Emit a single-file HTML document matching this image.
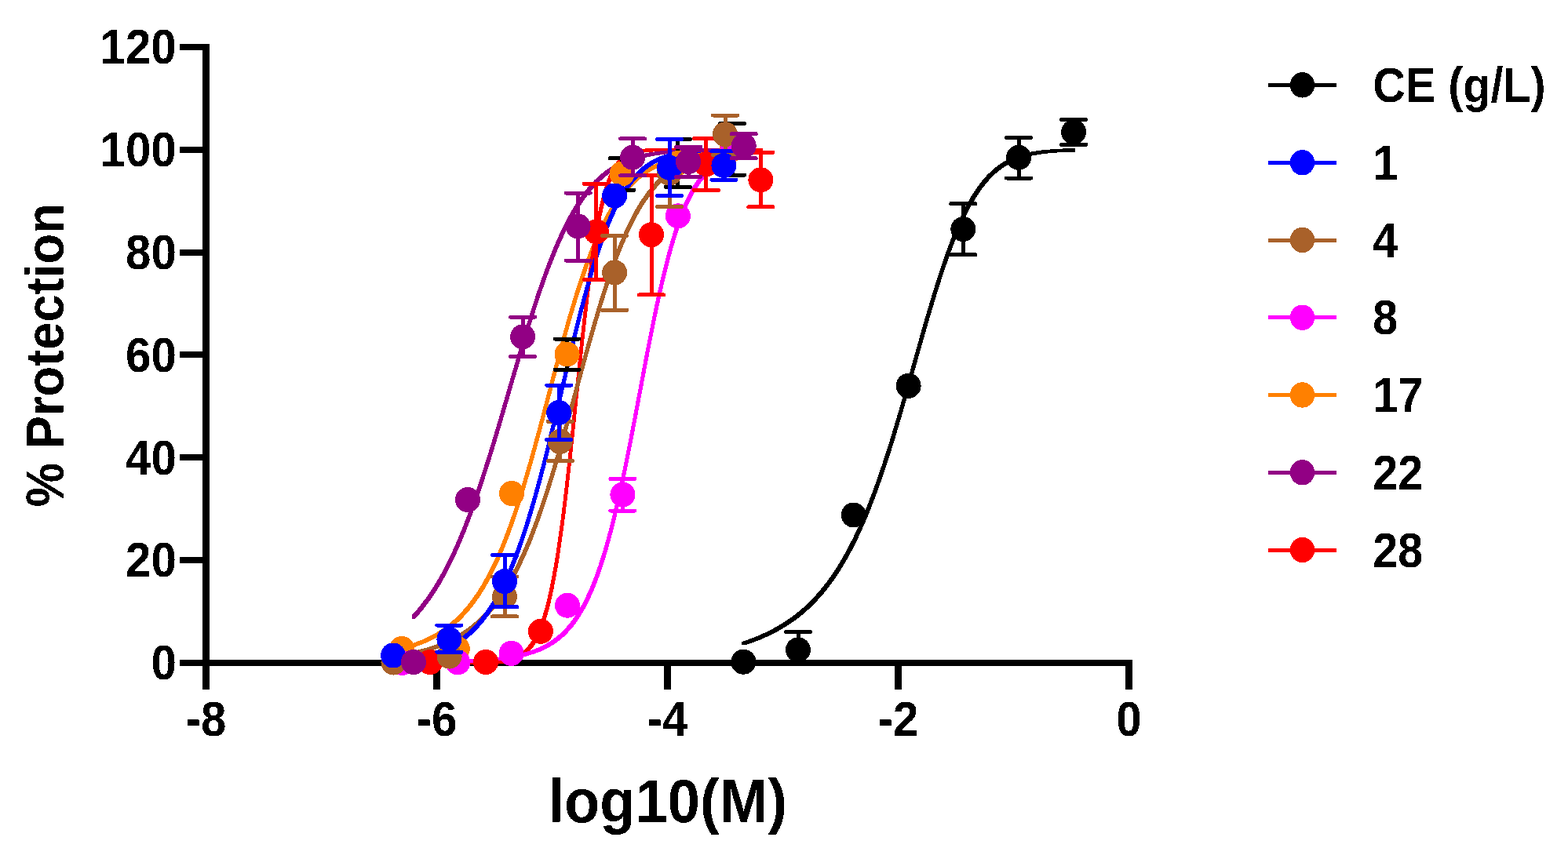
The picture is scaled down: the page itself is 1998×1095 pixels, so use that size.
<!DOCTYPE html>
<html><head><meta charset="utf-8"><title>% Protection vs log10(M)</title>
<style>html,body{margin:0;padding:0;background:#fff}svg{display:block}text{font-family:"Liberation Sans",sans-serif;font-weight:bold;fill:#000}</style></head><body>
<svg width="1998" height="1095" viewBox="0 0 1998 1095">
<defs><filter id="hard" filterUnits="userSpaceOnUse" x="0" y="0" width="1998" height="1095" color-interpolation-filters="sRGB"><feComponentTransfer><feFuncA type="discrete" tableValues="0 1"/></feComponentTransfer></filter></defs>
<rect width="1998" height="1095" fill="#fff"/>
<g fill="#000" shape-rendering="crispEdges">
<rect x="258" y="56" width="9" height="793"/>
<rect x="258" y="841" width="1185" height="8"/>
<rect x="229" y="841" width="30" height="8"/>
<rect x="229" y="710" width="30" height="8"/>
<rect x="229" y="579" width="30" height="8"/>
<rect x="229" y="448" width="30" height="8"/>
<rect x="229" y="318" width="30" height="8"/>
<rect x="229" y="187" width="30" height="8"/>
<rect x="229" y="56" width="30" height="8"/>
<rect x="258" y="841" width="9" height="38"/>
<rect x="552" y="841" width="9" height="38"/>
<rect x="846" y="841" width="9" height="38"/>
<rect x="1140" y="841" width="9" height="38"/>
<rect x="1434" y="841" width="9" height="38"/>
</g>
<g filter="url(#hard)">
<text transform="matrix(0.5830 0 0 0.6300 192.38 866.20)" font-size="100">0</text>
<text transform="matrix(0.5830 0 0 0.6300 160.02 735.37)" font-size="100">20</text>
<text transform="matrix(0.5830 0 0 0.6300 160.02 604.53)" font-size="100">40</text>
<text transform="matrix(0.5830 0 0 0.6300 160.02 473.70)" font-size="100">60</text>
<text transform="matrix(0.5830 0 0 0.6300 160.02 342.87)" font-size="100">80</text>
<text transform="matrix(0.5830 0 0 0.6300 127.52 212.03)" font-size="100">100</text>
<text transform="matrix(0.5830 0 0 0.6300 127.52 81.20)" font-size="100">120</text>
<text transform="matrix(0.5830 0 0 0.6300 236.58 937.60)" font-size="100">-8</text>
<text transform="matrix(0.5830 0 0 0.6300 530.58 937.60)" font-size="100">-6</text>
<text transform="matrix(0.5830 0 0 0.6300 824.58 937.60)" font-size="100">-4</text>
<text transform="matrix(0.5830 0 0 0.6300 1118.58 937.60)" font-size="100">-2</text>
<text transform="matrix(0.5830 0 0 0.6300 1422.29 937.60)" font-size="100">0</text>
<text transform="matrix(0.7410 0 0 0.7700 698.51 1048.10)" font-size="100">log10(M)</text>
<text transform="matrix(0 -0.6335 0.6800 0 80.9 646.38)" font-size="100">% Protection</text>
</g>
<g shape-rendering="crispEdges">
<g stroke="none">
<path d="M945.2,818.0 948.2,817.0 951.3,816.0 954.3,814.9 957.3,813.8 960.3,812.6 963.4,811.4 966.4,810.2 969.4,808.9 972.4,807.5 975.5,806.1 978.5,804.7 981.5,803.1 984.5,801.6 987.6,799.9 990.6,798.2 993.6,796.4 996.7,794.6 999.7,792.7 1002.7,790.7 1005.7,788.6 1008.8,786.4 1011.8,784.2 1014.8,781.8 1017.8,779.4 1020.9,776.8 1023.9,774.2 1026.9,771.4 1029.9,768.5 1033.0,765.5 1036.0,762.4 1039.0,759.1 1042.1,755.7 1045.1,752.2 1048.1,748.5 1051.1,744.7 1054.2,740.7 1057.2,736.5 1060.2,732.2 1063.2,727.7 1066.3,723.0 1069.3,718.1 1072.3,713.1 1075.3,707.8 1078.4,702.3 1081.4,696.6 1084.4,690.7 1087.5,684.6 1090.5,678.2 1093.5,671.7 1096.5,664.8 1099.6,657.8 1102.6,650.5 1105.6,643.0 1108.6,635.2 1111.7,627.2 1114.7,618.9 1117.7,610.4 1120.7,601.7 1123.8,592.7 1126.8,583.6 1129.8,574.2 1132.9,564.6 1135.9,554.8 1138.9,544.8 1141.9,534.7 1145.0,524.4 1148.0,514.0 1151.0,503.5 1154.0,492.9 1157.1,482.2 1160.1,471.5 1163.1,460.7 1166.1,450.0 1169.2,439.2 1172.2,428.6 1175.2,418.0 1178.2,407.5 1181.3,397.1 1184.3,386.9 1187.3,376.9 1190.4,367.0 1193.4,357.4 1196.4,348.0 1199.4,338.9 1202.5,330.1 1205.5,321.5 1208.5,313.2 1211.5,305.3 1214.6,297.7 1217.6,290.4 1220.6,283.4 1223.6,276.7 1226.7,270.4 1229.7,264.4 1232.7,258.7 1235.8,253.4 1238.8,248.3 1241.8,243.6 1244.8,239.1 1247.9,235.0 1250.9,231.1 1253.9,227.5 1256.9,224.1 1260.0,221.0 1263.0,218.1 1266.0,215.4 1269.0,213.0 1272.1,210.7 1275.1,208.6 1278.1,206.7 1281.2,204.9 1284.2,203.3 1287.2,201.9 1290.2,200.5 1293.3,199.3 1296.3,198.2 1299.3,197.2 1302.3,196.3 1305.4,195.5 1308.4,194.7 1311.4,194.0 1314.4,193.4 1317.5,192.9 1320.5,192.4 1323.5,192.0 1326.6,191.6 1329.6,191.2 1332.6,190.9 1335.6,190.7 1338.7,190.4 1341.7,190.2 1344.7,190.0 1347.7,189.8 1350.8,189.7 1353.8,189.5 1356.8,189.4 1359.8,189.3 1362.9,189.2 1365.9,189.2 1370.3,189.2 1370.3,193.6 1367.3,193.6 1364.2,193.7 1361.2,193.8 1358.2,193.9 1355.2,194.1 1352.1,194.2 1349.1,194.4 1346.1,194.6 1343.1,194.8 1340.0,195.1 1337.0,195.3 1334.0,195.6 1331.0,196.0 1327.9,196.4 1324.9,196.8 1321.9,197.3 1318.8,197.8 1315.8,198.4 1312.8,199.1 1309.8,199.9 1306.7,200.7 1303.7,201.6 1300.7,202.6 1297.7,203.7 1294.6,204.9 1291.6,206.3 1288.6,207.7 1285.6,209.3 1282.5,211.1 1279.5,213.0 1276.5,215.1 1273.4,217.4 1270.4,219.8 1267.4,222.5 1264.4,225.4 1261.3,228.5 1258.3,231.9 1255.3,235.5 1252.3,239.4 1249.2,243.5 1246.2,248.0 1243.2,252.7 1240.2,257.8 1237.1,263.1 1234.1,268.8 1231.1,274.8 1228.0,281.1 1225.0,287.8 1222.0,294.8 1219.0,302.1 1215.9,309.7 1212.9,317.6 1209.9,325.9 1206.9,334.5 1203.8,343.3 1200.8,352.4 1197.8,361.8 1194.8,371.4 1191.7,381.3 1188.7,391.3 1185.7,401.5 1182.6,411.9 1179.6,422.4 1176.6,433.0 1173.6,443.6 1170.5,454.4 1167.5,465.1 1164.5,475.9 1161.5,486.6 1158.4,497.3 1155.4,507.9 1152.4,518.4 1149.4,528.8 1146.3,539.1 1143.3,549.2 1140.3,559.2 1137.3,569.0 1134.2,578.6 1131.2,588.0 1128.2,597.1 1125.1,606.1 1122.1,614.8 1119.1,623.3 1116.1,631.6 1113.0,639.6 1110.0,647.4 1107.0,654.9 1104.0,662.2 1100.9,669.2 1097.9,676.1 1094.9,682.6 1091.9,689.0 1088.8,695.1 1085.8,701.0 1082.8,706.7 1079.7,712.2 1076.7,717.5 1073.7,722.5 1070.7,727.4 1067.6,732.1 1064.6,736.6 1061.6,740.9 1058.6,745.1 1055.5,749.1 1052.5,752.9 1049.5,756.6 1046.5,760.1 1043.4,763.5 1040.4,766.8 1037.4,769.9 1034.3,772.9 1031.3,775.8 1028.3,778.6 1025.3,781.2 1022.2,783.8 1019.2,786.2 1016.2,788.6 1013.2,790.8 1010.1,793.0 1007.1,795.1 1004.1,797.1 1001.1,799.0 998.0,800.8 995.0,802.6 992.0,804.3 988.9,806.0 985.9,807.5 982.9,809.1 979.9,810.5 976.8,811.9 973.8,813.3 970.8,814.6 967.8,815.8 964.7,817.0 961.7,818.2 958.7,819.3 955.7,820.4 952.6,821.4 949.6,822.4 945.2,822.4Z" fill="#000000"/>
<path d="M509.8,824.6 512.8,823.8 515.9,822.9 518.9,822.1 521.9,821.2 524.9,820.2 528.0,819.1 531.0,818.1 534.0,816.9 537.1,815.7 540.1,814.4 543.1,813.0 546.1,811.6 549.2,810.0 552.2,808.4 555.2,806.7 558.3,804.9 561.3,802.9 564.3,800.9 567.3,798.7 570.4,796.4 573.4,794.0 576.4,791.5 579.5,788.7 582.5,785.9 585.5,782.8 588.5,779.6 591.6,776.3 594.6,772.7 597.6,768.9 600.7,764.9 603.7,760.7 606.7,756.3 609.7,751.7 612.8,746.8 615.8,741.6 618.8,736.2 621.9,730.5 624.9,724.5 627.9,718.3 631.0,711.8 634.0,704.9 637.0,697.8 640.0,690.3 643.1,682.6 646.1,674.5 649.1,666.2 652.2,657.5 655.2,648.5 658.2,639.3 661.2,629.7 664.3,619.9 667.3,609.9 670.3,599.5 673.4,589.0 676.4,578.2 679.4,567.3 682.4,556.2 685.5,544.9 688.5,533.6 691.5,522.1 694.6,510.6 697.6,499.1 700.6,487.5 703.6,476.0 706.7,464.6 709.7,453.3 712.7,442.0 715.8,431.0 718.8,420.1 721.8,409.4 724.8,398.9 727.9,388.7 730.9,378.7 733.9,369.0 737.0,359.6 740.0,350.5 743.0,341.7 746.0,333.2 749.1,325.1 752.1,317.3 755.1,309.8 758.2,302.7 761.2,295.9 764.2,289.4 767.2,283.2 770.3,277.3 773.3,271.8 776.3,266.5 779.4,261.5 782.4,256.8 785.4,252.4 788.4,248.2 791.5,244.3 794.5,240.6 797.5,237.1 800.6,233.9 803.6,230.8 806.6,228.0 809.6,225.3 812.7,222.8 815.7,220.4 818.7,218.2 821.8,216.2 824.8,214.3 827.8,212.5 830.9,210.9 833.9,209.3 836.9,207.9 839.9,206.5 843.0,205.3 846.0,204.1 849.0,203.0 852.1,202.0 855.1,201.1 858.1,200.2 861.1,199.4 864.2,198.7 867.2,198.0 870.2,197.3 873.3,196.7 876.3,196.1 879.3,195.6 882.3,195.1 885.4,194.7 888.4,194.3 891.4,193.9 894.5,193.5 897.5,193.2 900.5,192.9 903.5,192.6 906.6,192.3 909.6,192.1 912.6,191.8 915.7,191.6 918.7,191.4 921.7,191.2 924.7,191.1 927.8,190.9 930.8,190.7 935.2,190.7 935.2,195.1 932.2,195.3 929.1,195.5 926.1,195.6 923.1,195.8 920.1,196.0 917.0,196.2 914.0,196.5 911.0,196.7 907.9,197.0 904.9,197.3 901.9,197.6 898.9,197.9 895.8,198.3 892.8,198.7 889.8,199.1 886.7,199.5 883.7,200.0 880.7,200.5 877.7,201.1 874.6,201.7 871.6,202.4 868.6,203.1 865.5,203.8 862.5,204.6 859.5,205.5 856.5,206.4 853.4,207.4 850.4,208.5 847.4,209.7 844.3,210.9 841.3,212.3 838.3,213.7 835.3,215.3 832.2,216.9 829.2,218.7 826.2,220.6 823.1,222.6 820.1,224.8 817.1,227.2 814.0,229.7 811.0,232.4 808.0,235.2 805.0,238.3 801.9,241.5 798.9,245.0 795.9,248.7 792.8,252.6 789.8,256.8 786.8,261.2 783.8,265.9 780.7,270.9 777.7,276.2 774.7,281.7 771.6,287.6 768.6,293.8 765.6,300.3 762.6,307.1 759.5,314.2 756.5,321.7 753.5,329.5 750.4,337.6 747.4,346.1 744.4,354.9 741.4,364.0 738.3,373.4 735.3,383.1 732.3,393.1 729.2,403.3 726.2,413.8 723.2,424.5 720.2,435.4 717.1,446.4 714.1,457.7 711.1,469.0 708.0,480.4 705.0,491.9 702.0,503.5 699.0,515.0 695.9,526.5 692.9,538.0 689.9,549.3 686.8,560.6 683.8,571.7 680.8,582.6 677.8,593.4 674.7,603.9 671.7,614.3 668.7,624.3 665.6,634.1 662.6,643.7 659.6,652.9 656.6,661.9 653.5,670.6 650.5,678.9 647.5,687.0 644.4,694.7 641.4,702.2 638.4,709.3 635.4,716.2 632.3,722.7 629.3,728.9 626.3,734.9 623.2,740.6 620.2,746.0 617.2,751.2 614.1,756.1 611.1,760.7 608.1,765.1 605.1,769.3 602.0,773.3 599.0,777.1 596.0,780.7 592.9,784.0 589.9,787.2 586.9,790.3 583.9,793.1 580.8,795.9 577.8,798.4 574.8,800.8 571.7,803.1 568.7,805.3 565.7,807.3 562.7,809.3 559.6,811.1 556.6,812.8 553.6,814.4 550.5,816.0 547.5,817.4 544.5,818.8 541.5,820.1 538.4,821.3 535.4,822.5 532.4,823.5 529.3,824.6 526.3,825.6 523.3,826.5 520.3,827.3 517.2,828.2 514.2,829.0 509.8,829.0Z" fill="#FF8000"/>
<path d="M545.8,842.8 548.8,842.8 551.9,842.8 554.9,842.8 557.9,842.8 561.0,842.8 564.0,842.8 567.0,842.8 570.1,842.8 573.1,842.8 576.1,842.8 579.1,842.8 582.2,842.8 585.2,842.8 588.2,842.8 591.3,842.8 594.3,842.8 597.3,842.7 600.4,842.7 603.4,842.7 606.4,842.7 609.5,842.6 612.5,842.6 615.5,842.5 618.6,842.4 621.6,842.3 624.6,842.2 627.7,842.0 630.7,841.8 633.7,841.5 636.7,841.2 639.8,840.8 642.8,840.2 645.8,839.6 648.9,838.8 651.9,837.9 654.9,836.7 658.0,835.3 661.0,833.6 664.0,831.6 667.1,829.2 670.1,826.3 673.1,822.9 676.2,818.9 679.2,814.1 682.2,808.4 685.3,801.9 688.3,794.2 691.3,785.3 694.4,775.0 697.4,763.2 700.4,749.8 703.4,734.5 706.5,717.4 709.5,698.4 712.5,677.4 715.6,654.4 718.6,629.7 721.6,603.4 724.7,575.6 727.7,546.9 730.7,517.5 733.8,488.0 736.8,458.7 739.8,430.1 742.9,402.6 745.9,376.6 748.9,352.4 752.0,330.1 755.0,309.9 758.0,291.8 761.0,275.7 764.1,261.7 767.1,249.5 770.1,239.0 773.2,230.1 776.2,222.5 779.2,216.2 782.3,210.9 785.3,206.6 788.3,203.0 791.4,200.1 794.4,197.7 797.4,195.8 800.5,194.2 803.5,193.0 806.5,192.0 809.6,191.2 812.6,190.6 815.6,190.1 818.6,189.8 821.7,189.5 824.7,189.3 827.7,189.1 830.8,189.0 833.8,188.9 836.8,188.8 839.9,188.8 842.9,188.7 845.9,188.7 849.0,188.7 852.0,188.7 855.0,188.7 858.1,188.6 861.1,188.6 864.1,188.6 867.2,188.6 870.2,188.6 873.2,188.6 876.3,188.6 879.3,188.6 882.3,188.6 885.3,188.6 888.4,188.6 891.4,188.6 894.4,188.6 897.5,188.6 900.5,188.6 903.5,188.6 906.6,188.6 909.6,188.6 912.6,188.6 915.7,188.6 918.7,188.6 921.7,188.6 924.8,188.6 927.8,188.6 930.8,188.6 933.9,188.6 936.9,188.6 939.9,188.6 942.9,188.6 946.0,188.6 949.0,188.6 952.0,188.6 955.1,188.6 958.1,188.6 961.1,188.6 964.2,188.6 967.2,188.6 971.6,188.6 971.6,193.0 968.6,193.0 965.5,193.0 962.5,193.0 959.5,193.0 956.4,193.0 953.4,193.0 950.4,193.0 947.3,193.0 944.3,193.0 941.3,193.0 938.3,193.0 935.2,193.0 932.2,193.0 929.2,193.0 926.1,193.0 923.1,193.0 920.1,193.0 917.0,193.0 914.0,193.0 911.0,193.0 907.9,193.0 904.9,193.0 901.9,193.0 898.8,193.0 895.8,193.0 892.8,193.0 889.7,193.0 886.7,193.0 883.7,193.0 880.7,193.0 877.6,193.0 874.6,193.0 871.6,193.0 868.5,193.0 865.5,193.0 862.5,193.0 859.4,193.1 856.4,193.1 853.4,193.1 850.3,193.1 847.3,193.1 844.3,193.2 841.2,193.2 838.2,193.3 835.2,193.4 832.1,193.5 829.1,193.7 826.1,193.9 823.0,194.2 820.0,194.5 817.0,195.0 814.0,195.6 810.9,196.4 807.9,197.4 804.9,198.6 801.8,200.2 798.8,202.1 795.8,204.5 792.7,207.4 789.7,211.0 786.7,215.3 783.6,220.6 780.6,226.9 777.6,234.5 774.5,243.4 771.5,253.9 768.5,266.1 765.4,280.1 762.4,296.2 759.4,314.3 756.4,334.5 753.3,356.8 750.3,381.0 747.3,407.0 744.2,434.5 741.2,463.1 738.2,492.4 735.1,521.9 732.1,551.3 729.1,580.0 726.0,607.8 723.0,634.1 720.0,658.8 716.9,681.8 713.9,702.8 710.9,721.8 707.8,738.9 704.8,754.2 701.8,767.6 698.8,779.4 695.7,789.7 692.7,798.6 689.7,806.3 686.6,812.8 683.6,818.5 680.6,823.3 677.5,827.3 674.5,830.7 671.5,833.6 668.4,836.0 665.4,838.0 662.4,839.7 659.3,841.1 656.3,842.3 653.3,843.2 650.2,844.0 647.2,844.6 644.2,845.2 641.1,845.6 638.1,845.9 635.1,846.2 632.1,846.4 629.0,846.6 626.0,846.7 623.0,846.8 619.9,846.9 616.9,847.0 613.9,847.0 610.8,847.1 607.8,847.1 604.8,847.1 601.7,847.1 598.7,847.2 595.7,847.2 592.6,847.2 589.6,847.2 586.6,847.2 583.5,847.2 580.5,847.2 577.5,847.2 574.5,847.2 571.4,847.2 568.4,847.2 565.4,847.2 562.3,847.2 559.3,847.2 556.3,847.2 553.2,847.2 550.2,847.2 545.8,847.2Z" fill="#FF0000"/>
<path d="M510.3,842.4 513.3,842.3 516.4,842.3 519.4,842.3 522.4,842.3 525.5,842.2 528.5,842.2 531.5,842.2 534.6,842.1 537.6,842.1 540.6,842.1 543.7,842.0 546.7,842.0 549.7,841.9 552.8,841.9 555.8,841.8 558.8,841.8 561.9,841.7 564.9,841.6 567.9,841.6 571.0,841.5 574.0,841.4 577.0,841.3 580.1,841.2 583.1,841.1 586.1,841.0 589.2,840.9 592.2,840.8 595.2,840.6 598.3,840.5 601.3,840.4 604.3,840.2 607.4,840.0 610.4,839.8 613.4,839.6 616.5,839.4 619.5,839.2 622.6,838.9 625.6,838.7 628.6,838.4 631.7,838.0 634.7,837.7 637.7,837.3 640.8,836.9 643.8,836.5 646.8,836.1 649.9,835.6 652.9,835.0 655.9,834.4 659.0,833.8 662.0,833.1 665.0,832.4 668.1,831.6 671.1,830.7 674.1,829.8 677.2,828.8 680.2,827.7 683.2,826.5 686.3,825.2 689.3,823.8 692.3,822.3 695.4,820.7 698.4,818.9 701.4,817.0 704.5,814.9 707.5,812.7 710.5,810.3 713.6,807.6 716.6,804.7 719.6,801.6 722.7,798.3 725.7,794.7 728.7,790.8 731.8,786.5 734.8,781.9 737.8,777.0 740.9,771.7 743.9,766.0 746.9,759.8 750.0,753.2 753.0,746.1 756.0,738.5 759.1,730.4 762.1,721.8 765.1,712.6 768.2,702.8 771.2,692.4 774.2,681.5 777.3,669.9 780.3,657.8 783.3,645.1 786.4,631.9 789.4,618.1 792.4,603.8 795.5,589.1 798.5,574.0 801.5,558.6 804.6,542.8 807.6,526.9 810.6,510.8 813.7,494.7 816.7,478.6 819.7,462.6 822.8,446.7 825.8,431.1 828.9,415.9 831.9,401.0 834.9,386.6 838.0,372.7 841.0,359.3 844.0,346.6 847.1,334.4 850.1,322.8 853.1,311.9 856.2,301.7 859.2,292.1 862.2,283.1 865.3,274.7 868.3,267.0 871.3,259.8 874.4,253.2 877.4,247.1 880.4,241.5 883.5,236.4 886.5,231.7 889.5,227.4 892.6,223.5 895.6,220.0 898.6,216.8 901.7,213.9 904.7,211.2 907.7,208.9 910.8,206.7 913.8,204.8 916.8,203.1 919.9,201.5 922.9,200.1 925.9,198.8 929.0,197.7 932.0,196.7 936.4,196.7 936.4,201.1 933.4,202.1 930.3,203.2 927.3,204.5 924.3,205.9 921.2,207.5 918.2,209.2 915.2,211.1 912.1,213.3 909.1,215.6 906.1,218.3 903.0,221.2 900.0,224.4 897.0,227.9 893.9,231.8 890.9,236.1 887.9,240.8 884.8,245.9 881.8,251.5 878.8,257.6 875.7,264.2 872.7,271.4 869.7,279.1 866.6,287.5 863.6,296.5 860.6,306.1 857.5,316.3 854.5,327.2 851.5,338.8 848.4,351.0 845.4,363.7 842.4,377.1 839.3,391.0 836.3,405.4 833.3,420.3 830.2,435.5 827.2,451.1 824.1,467.0 821.1,483.0 818.1,499.1 815.0,515.2 812.0,531.3 809.0,547.2 805.9,563.0 802.9,578.4 799.9,593.5 796.8,608.2 793.8,622.5 790.8,636.3 787.7,649.5 784.7,662.2 781.7,674.3 778.6,685.9 775.6,696.8 772.6,707.2 769.5,717.0 766.5,726.2 763.5,734.8 760.4,742.9 757.4,750.5 754.4,757.6 751.3,764.2 748.3,770.4 745.3,776.1 742.2,781.4 739.2,786.3 736.2,790.9 733.1,795.2 730.1,799.1 727.1,802.7 724.0,806.0 721.0,809.1 718.0,812.0 714.9,814.7 711.9,817.1 708.9,819.3 705.8,821.4 702.8,823.3 699.8,825.1 696.7,826.7 693.7,828.2 690.7,829.6 687.6,830.9 684.6,832.1 681.6,833.2 678.5,834.2 675.5,835.1 672.5,836.0 669.4,836.8 666.4,837.5 663.4,838.2 660.3,838.8 657.3,839.4 654.3,840.0 651.2,840.5 648.2,840.9 645.2,841.3 642.1,841.7 639.1,842.1 636.1,842.4 633.0,842.8 630.0,843.1 627.0,843.3 623.9,843.6 620.9,843.8 617.8,844.0 614.8,844.2 611.8,844.4 608.7,844.6 605.7,844.8 602.7,844.9 599.6,845.0 596.6,845.2 593.6,845.3 590.5,845.4 587.5,845.5 584.5,845.6 581.4,845.7 578.4,845.8 575.4,845.9 572.3,846.0 569.3,846.0 566.3,846.1 563.2,846.2 560.2,846.2 557.2,846.3 554.1,846.3 551.1,846.4 548.1,846.4 545.0,846.5 542.0,846.5 539.0,846.5 535.9,846.6 532.9,846.6 529.9,846.6 526.8,846.7 523.8,846.7 520.8,846.7 517.7,846.7 514.7,846.8 510.3,846.8Z" fill="#FF00FF"/>
<path d="M499.3,834.5 502.3,834.0 505.4,833.6 508.4,833.1 511.5,832.6 514.5,832.1 517.5,831.6 520.6,831.0 523.6,830.4 526.7,829.8 529.7,829.1 532.7,828.4 535.8,827.6 538.8,826.8 541.9,826.0 544.9,825.1 547.9,824.2 551.0,823.2 554.0,822.2 557.1,821.1 560.1,819.9 563.1,818.7 566.2,817.4 569.2,816.0 572.2,814.6 575.3,813.1 578.3,811.5 581.4,809.8 584.4,808.0 587.4,806.1 590.5,804.1 593.5,802.0 596.6,799.8 599.6,797.5 602.6,795.1 605.7,792.5 608.7,789.7 611.8,786.8 614.8,783.8 617.8,780.6 620.9,777.3 623.9,773.7 627.0,770.0 630.0,766.1 633.0,762.0 636.1,757.6 639.1,753.1 642.2,748.3 645.2,743.3 648.2,738.1 651.3,732.6 654.3,726.9 657.4,720.9 660.4,714.7 663.4,708.2 666.5,701.4 669.5,694.3 672.6,687.0 675.6,679.3 678.6,671.4 681.7,663.2 684.7,654.8 687.8,646.0 690.8,637.0 693.8,627.8 696.9,618.3 699.9,608.5 703.0,598.5 706.0,588.3 709.0,577.9 712.1,567.4 715.1,556.6 718.1,545.8 721.2,534.8 724.2,523.7 727.3,512.5 730.3,501.4 733.3,490.1 736.4,478.9 739.4,467.8 742.5,456.7 745.5,445.7 748.5,434.8 751.6,424.0 754.6,413.4 757.7,403.0 760.7,392.8 763.7,382.8 766.8,373.1 769.8,363.6 772.9,354.4 775.9,345.5 778.9,336.9 782.0,328.6 785.0,320.6 788.1,312.9 791.1,305.5 794.1,298.5 797.2,291.7 800.2,285.3 803.3,279.2 806.3,273.4 809.3,267.8 812.4,262.6 815.4,257.6 818.5,253.0 821.5,248.6 824.5,244.4 827.6,240.5 830.6,236.8 833.7,233.4 836.7,230.1 839.7,227.1 842.8,224.3 845.8,221.6 848.9,219.2 851.9,216.9 854.9,214.7 858.0,212.7 861.0,210.9 864.0,209.1 867.1,207.5 870.1,206.0 873.2,204.7 876.2,203.4 879.2,202.2 882.3,201.1 885.3,200.1 888.4,199.1 891.4,198.3 894.4,197.5 897.5,196.8 900.5,196.1 903.6,195.4 906.6,194.9 909.6,194.3 912.7,193.9 915.7,193.4 918.8,193.0 921.8,192.6 926.2,192.6 926.2,197.0 923.2,197.4 920.1,197.8 917.1,198.3 914.0,198.7 911.0,199.3 908.0,199.8 904.9,200.5 901.9,201.2 898.8,201.9 895.8,202.7 892.8,203.5 889.7,204.5 886.7,205.5 883.6,206.6 880.6,207.8 877.6,209.1 874.5,210.4 871.5,211.9 868.4,213.5 865.4,215.3 862.4,217.1 859.3,219.1 856.3,221.3 853.3,223.6 850.2,226.0 847.2,228.7 844.1,231.5 841.1,234.5 838.1,237.8 835.0,241.2 832.0,244.9 828.9,248.8 825.9,253.0 822.9,257.4 819.8,262.0 816.8,267.0 813.7,272.2 810.7,277.8 807.7,283.6 804.6,289.7 801.6,296.1 798.5,302.9 795.5,309.9 792.5,317.3 789.4,325.0 786.4,333.0 783.3,341.3 780.3,349.9 777.3,358.8 774.2,368.0 771.2,377.5 768.1,387.2 765.1,397.2 762.1,407.4 759.0,417.8 756.0,428.4 752.9,439.2 749.9,450.1 746.9,461.1 743.8,472.2 740.8,483.3 737.7,494.5 734.7,505.8 731.7,516.9 728.6,528.1 725.6,539.2 722.5,550.2 719.5,561.0 716.5,571.8 713.4,582.3 710.4,592.7 707.4,602.9 704.3,612.9 701.3,622.7 698.2,632.2 695.2,641.4 692.2,650.4 689.1,659.2 686.1,667.6 683.0,675.8 680.0,683.7 677.0,691.4 673.9,698.7 670.9,705.8 667.8,712.6 664.8,719.1 661.8,725.3 658.7,731.3 655.7,737.0 652.6,742.5 649.6,747.7 646.6,752.7 643.5,757.5 640.5,762.0 637.4,766.4 634.4,770.5 631.4,774.4 628.3,778.1 625.3,781.7 622.2,785.0 619.2,788.2 616.2,791.2 613.1,794.1 610.1,796.9 607.0,799.5 604.0,801.9 601.0,804.2 597.9,806.4 594.9,808.5 591.8,810.5 588.8,812.4 585.8,814.2 582.7,815.9 579.7,817.5 576.6,819.0 573.6,820.4 570.6,821.8 567.5,823.1 564.5,824.3 561.5,825.5 558.4,826.6 555.4,827.6 552.3,828.6 549.3,829.5 546.3,830.4 543.2,831.2 540.2,832.0 537.1,832.8 534.1,833.5 531.1,834.2 528.0,834.8 525.0,835.4 521.9,836.0 518.9,836.5 515.9,837.0 512.8,837.5 509.8,838.0 506.7,838.4 503.7,838.9 499.3,838.9Z" fill="#A9612A"/>
<path d="M498.8,840.3 501.8,840.0 504.9,839.7 507.9,839.4 510.9,839.1 514.0,838.7 517.0,838.3 520.0,837.9 523.1,837.4 526.1,836.9 529.1,836.4 532.1,835.8 535.2,835.1 538.2,834.5 541.2,833.7 544.3,832.9 547.3,832.1 550.3,831.1 553.4,830.1 556.4,829.0 559.4,827.9 562.5,826.6 565.5,825.3 568.5,823.9 571.6,822.3 574.6,820.7 577.6,818.9 580.7,817.0 583.7,815.0 586.7,812.9 589.7,810.6 592.8,808.1 595.8,805.5 598.8,802.7 601.9,799.7 604.9,796.6 607.9,793.2 611.0,789.6 614.0,785.8 617.0,781.8 620.1,777.6 623.1,773.0 626.1,768.2 629.2,763.2 632.2,757.8 635.2,752.2 638.3,746.3 641.3,740.0 644.3,733.4 647.4,726.5 650.4,719.2 653.4,711.6 656.4,703.7 659.5,695.4 662.5,686.7 665.5,677.7 668.6,668.3 671.6,658.6 674.6,648.5 677.7,638.1 680.7,627.4 683.7,616.3 686.8,605.0 689.8,593.4 692.8,581.5 695.9,569.4 698.9,557.0 701.9,544.5 705.0,531.9 708.0,519.1 711.0,506.2 714.0,493.4 717.1,480.5 720.1,467.6 723.1,454.8 726.2,442.1 729.2,429.6 732.2,417.2 735.3,405.1 738.3,393.2 741.3,381.6 744.4,370.3 747.4,359.4 750.4,348.7 753.5,338.5 756.5,328.7 759.5,319.2 762.6,310.2 765.6,301.6 768.6,293.4 771.6,285.6 774.7,278.2 777.7,271.3 780.7,264.7 783.8,258.6 786.8,252.8 789.8,247.5 792.9,242.4 795.9,237.8 798.9,233.4 802.0,229.4 805.0,225.7 808.0,222.3 811.1,219.1 814.1,216.2 817.1,213.5 820.2,211.1 823.2,208.8 826.2,206.8 829.3,205.0 832.3,203.3 835.3,201.7 838.3,200.3 841.4,199.1 844.4,197.9 847.4,196.9 850.5,196.0 853.5,195.2 856.5,194.4 859.6,193.7 862.6,193.1 865.6,192.6 868.7,192.1 871.7,191.7 874.7,191.3 877.8,191.0 880.8,190.7 883.8,190.4 886.9,190.2 889.9,190.0 892.9,189.8 895.9,189.7 899.0,189.5 902.0,189.4 905.0,189.3 908.1,189.2 911.1,189.1 914.1,189.1 917.2,189.0 920.2,188.9 924.6,188.9 924.6,193.3 921.6,193.4 918.5,193.5 915.5,193.5 912.5,193.6 909.4,193.7 906.4,193.8 903.4,193.9 900.3,194.1 897.3,194.2 894.3,194.4 891.3,194.6 888.2,194.8 885.2,195.1 882.2,195.4 879.1,195.7 876.1,196.1 873.1,196.5 870.0,197.0 867.0,197.5 864.0,198.1 860.9,198.8 857.9,199.6 854.9,200.4 851.8,201.3 848.8,202.3 845.8,203.5 842.7,204.7 839.7,206.1 836.7,207.7 833.7,209.4 830.6,211.2 827.6,213.2 824.6,215.5 821.5,217.9 818.5,220.6 815.5,223.5 812.4,226.7 809.4,230.1 806.4,233.8 803.3,237.8 800.3,242.2 797.3,246.8 794.2,251.9 791.2,257.2 788.2,263.0 785.1,269.1 782.1,275.7 779.1,282.6 776.0,290.0 773.0,297.8 770.0,306.0 767.0,314.6 763.9,323.6 760.9,333.1 757.9,342.9 754.8,353.1 751.8,363.8 748.8,374.7 745.7,386.0 742.7,397.6 739.7,409.5 736.6,421.6 733.6,434.0 730.6,446.5 727.5,459.2 724.5,472.0 721.5,484.9 718.4,497.8 715.4,510.6 712.4,523.5 709.4,536.3 706.3,548.9 703.3,561.4 700.3,573.8 697.2,585.9 694.2,597.8 691.2,609.4 688.1,620.7 685.1,631.8 682.1,642.5 679.0,652.9 676.0,663.0 673.0,672.7 669.9,682.1 666.9,691.1 663.9,699.8 660.8,708.1 657.8,716.0 654.8,723.6 651.8,730.9 648.7,737.8 645.7,744.4 642.7,750.7 639.6,756.6 636.6,762.2 633.6,767.6 630.5,772.6 627.5,777.4 624.5,782.0 621.4,786.2 618.4,790.2 615.4,794.0 612.3,797.6 609.3,801.0 606.3,804.1 603.2,807.1 600.2,809.9 597.2,812.5 594.1,815.0 591.1,817.3 588.1,819.4 585.1,821.4 582.0,823.3 579.0,825.1 576.0,826.7 572.9,828.3 569.9,829.7 566.9,831.0 563.8,832.3 560.8,833.4 557.8,834.5 554.7,835.5 551.7,836.5 548.7,837.3 545.6,838.1 542.6,838.9 539.6,839.5 536.5,840.2 533.5,840.8 530.5,841.3 527.5,841.8 524.4,842.3 521.4,842.7 518.4,843.1 515.3,843.5 512.3,843.8 509.3,844.1 506.2,844.4 503.2,844.7 498.8,844.7Z" fill="#0000FF"/>
<path d="M524.7,784.1 527.7,780.8 530.8,777.4 533.8,773.8 536.8,770.0 539.8,766.1 542.9,762.0 545.9,757.7 548.9,753.2 551.9,748.5 555.0,743.7 558.0,738.6 561.0,733.2 564.1,727.7 567.1,722.0 570.1,716.0 573.1,709.8 576.2,703.3 579.2,696.7 582.2,689.8 585.2,682.6 588.3,675.2 591.3,667.6 594.3,659.8 597.4,651.7 600.4,643.4 603.4,634.9 606.4,626.2 609.5,617.2 612.5,608.1 615.5,598.8 618.5,589.3 621.6,579.7 624.6,569.9 627.6,559.9 630.7,549.9 633.7,539.7 636.7,529.5 639.7,519.1 642.8,508.8 645.8,498.4 648.8,488.0 651.8,477.6 654.9,467.3 657.9,457.0 660.9,446.7 664.0,436.6 667.0,426.6 670.0,416.7 673.0,406.9 676.1,397.3 679.1,387.9 682.1,378.7 685.1,369.7 688.2,361.0 691.2,352.4 694.2,344.1 697.3,336.0 700.3,328.2 703.3,320.7 706.3,313.4 709.4,306.4 712.4,299.7 715.4,293.2 718.4,287.0 721.5,281.1 724.5,275.4 727.5,270.0 730.6,264.9 733.6,260.0 736.6,255.4 739.6,251.0 742.7,246.8 745.7,242.9 748.7,239.2 751.8,235.6 754.8,232.3 757.8,229.2 760.8,226.3 763.9,223.6 766.9,221.0 769.9,218.6 772.9,216.3 776.0,214.2 779.0,212.3 782.0,210.4 785.1,208.7 788.1,207.1 791.1,205.7 794.1,204.3 797.2,203.0 800.2,201.8 803.2,200.7 806.2,199.7 809.3,198.8 812.3,197.9 815.3,197.1 818.4,196.4 821.4,195.7 824.4,195.1 827.4,194.5 830.5,194.0 833.5,193.5 836.5,193.1 839.5,192.7 842.6,192.3 845.6,191.9 848.6,191.6 851.7,191.3 854.7,191.1 857.7,190.8 860.7,190.6 863.8,190.4 866.8,190.3 869.8,190.1 872.8,190.0 875.9,189.8 878.9,189.7 881.9,189.6 885.0,189.5 888.0,189.4 891.0,189.3 894.0,189.2 897.1,189.2 900.1,189.1 903.1,189.1 906.1,189.0 909.2,189.0 912.2,188.9 915.2,188.9 918.3,188.9 921.3,188.8 924.3,188.8 927.3,188.8 930.4,188.8 933.4,188.8 936.4,188.7 939.4,188.7 942.5,188.7 945.5,188.7 949.9,188.7 949.9,193.1 946.9,193.1 943.8,193.1 940.8,193.1 937.8,193.2 934.8,193.2 931.7,193.2 928.7,193.2 925.7,193.2 922.7,193.3 919.6,193.3 916.6,193.3 913.6,193.4 910.5,193.4 907.5,193.5 904.5,193.5 901.5,193.6 898.4,193.6 895.4,193.7 892.4,193.8 889.4,193.9 886.3,194.0 883.3,194.1 880.3,194.2 877.2,194.4 874.2,194.5 871.2,194.7 868.2,194.8 865.1,195.0 862.1,195.2 859.1,195.5 856.1,195.7 853.0,196.0 850.0,196.3 847.0,196.7 843.9,197.1 840.9,197.5 837.9,197.9 834.9,198.4 831.8,198.9 828.8,199.5 825.8,200.1 822.8,200.8 819.7,201.5 816.7,202.3 813.7,203.2 810.6,204.1 807.6,205.1 804.6,206.2 801.6,207.4 798.5,208.7 795.5,210.1 792.5,211.5 789.5,213.1 786.4,214.8 783.4,216.7 780.4,218.6 777.3,220.7 774.3,223.0 771.3,225.4 768.3,228.0 765.2,230.7 762.2,233.6 759.2,236.7 756.2,240.0 753.1,243.6 750.1,247.3 747.1,251.2 744.0,255.4 741.0,259.8 738.0,264.4 735.0,269.3 731.9,274.4 728.9,279.8 725.9,285.5 722.8,291.4 719.8,297.6 716.8,304.1 713.8,310.8 710.7,317.8 707.7,325.1 704.7,332.6 701.7,340.4 698.6,348.5 695.6,356.8 692.6,365.4 689.5,374.1 686.5,383.1 683.5,392.3 680.5,401.7 677.4,411.3 674.4,421.1 671.4,431.0 668.4,441.0 665.3,451.1 662.3,461.4 659.3,471.7 656.2,482.0 653.2,492.4 650.2,502.8 647.2,513.2 644.1,523.5 641.1,533.9 638.1,544.1 635.1,554.3 632.0,564.3 629.0,574.3 626.0,584.1 622.9,593.7 619.9,603.2 616.9,612.5 613.9,621.6 610.8,630.6 607.8,639.3 604.8,647.8 601.8,656.1 598.7,664.2 595.7,672.0 592.7,679.6 589.6,687.0 586.6,694.2 583.6,701.1 580.6,707.7 577.5,714.2 574.5,720.4 571.5,726.4 568.5,732.1 565.4,737.6 562.4,743.0 559.4,748.1 556.3,752.9 553.3,757.6 550.3,762.1 547.3,766.4 544.2,770.5 541.2,774.4 538.2,778.2 535.2,781.8 532.1,785.2 529.1,788.5 524.7,788.5Z" fill="#920084"/>
</g>
<g fill="#000000">
<path d="M1017.0,805.4V828.4M1001.5,805.4H1032.5M1227.3,259.7V324.7M1211.8,259.7H1242.8M1211.8,324.7H1242.8M1298.0,175.7V227.0M1282.5,175.7H1313.5M1282.5,227.0H1313.5M1368.1,152.4V184.3M1352.6,152.4H1383.6M1352.6,184.3H1383.6" fill="none" stroke="#000000" stroke-width="5.0" stroke-linecap="round"/>
<circle cx="947.4" cy="843.7" r="16.0"/>
<circle cx="1017.0" cy="828.4" r="16.0"/>
<circle cx="1087.8" cy="656.5" r="16.0"/>
<circle cx="1157.6" cy="491.8" r="16.0"/>
<circle cx="1227.3" cy="292.1" r="16.0"/>
<circle cx="1298.0" cy="200.8" r="16.0"/>
<circle cx="1368.1" cy="168.3" r="16.0"/>
</g>
<g fill="#FF8000">
<path d="M722.6,432.0V471.2M707.1,432.0H738.1M707.1,471.2H738.1M792.5,201.9V242.1M777.0,201.9H808.0M777.0,242.1H808.0M863.9,177.8V238.2M848.4,177.8H879.4M848.4,238.2H879.4M933.0,157.5V223.1M917.5,157.5H948.5M917.5,223.1H948.5" fill="none" stroke="#000000" stroke-width="5.0" stroke-linecap="round"/>
<circle cx="512.0" cy="827.0" r="16.0"/>
<circle cx="582.8" cy="827.0" r="16.0"/>
<circle cx="652.0" cy="629.0" r="16.0"/>
<circle cx="722.6" cy="451.5" r="16.0"/>
<circle cx="792.5" cy="221.6" r="16.0"/>
<circle cx="863.9" cy="207.9" r="16.0"/>
<circle cx="933.0" cy="190.3" r="16.0"/>
</g>
<g fill="#FF0000">
<path d="M759.9,234.3V356.4M744.4,234.3H775.4M744.4,356.4H775.4M830.0,223.1V375.9M814.5,223.1H845.5M814.5,375.9H845.5M899.9,176.6V242.2M884.4,176.6H915.4M884.4,242.2H915.4M969.4,194.1V263.8M953.9,194.1H984.9M953.9,263.8H984.9" fill="none" stroke="#FF0000" stroke-width="5.0" stroke-linecap="round"/>
<circle cx="548.0" cy="844.0" r="16.0"/>
<circle cx="619.0" cy="843.9" r="16.0"/>
<circle cx="688.9" cy="804.8" r="16.0"/>
<circle cx="759.9" cy="295.4" r="16.0"/>
<circle cx="830.0" cy="299.2" r="16.0"/>
<circle cx="899.9" cy="209.4" r="16.0"/>
<circle cx="969.4" cy="229.3" r="16.0"/>
</g>
<g fill="#FF00FF">
<path d="M793.4,610.4V651.0M777.9,610.4H808.9M777.9,651.0H808.9" fill="none" stroke="#FF00FF" stroke-width="5.0" stroke-linecap="round"/>
<circle cx="512.5" cy="845.0" r="16.0"/>
<circle cx="583.3" cy="844.4" r="16.0"/>
<circle cx="651.6" cy="832.8" r="16.0"/>
<circle cx="723.0" cy="771.7" r="16.0"/>
<circle cx="793.4" cy="630.5" r="16.0"/>
<circle cx="863.9" cy="275.3" r="16.0"/>
<circle cx="934.2" cy="189.0" r="16.0"/>
</g>
<g fill="#A9612A">
<path d="M643.0,735.0V785.9M627.5,735.0H658.5M627.5,785.9H658.5M713.7,537.2V587.5M698.2,537.2H729.2M698.2,587.5H729.2M783.1,300.5V395.3M767.6,300.5H798.6M767.6,395.3H798.6M853.0,177.8V263.5M837.5,177.8H868.5M837.5,263.5H868.5M924.0,147.0V197.4M908.5,147.0H939.5M908.5,197.4H939.5" fill="none" stroke="#A9612A" stroke-width="5.0" stroke-linecap="round"/>
<circle cx="501.5" cy="844.5" r="16.0"/>
<circle cx="572.6" cy="836.6" r="16.0"/>
<circle cx="643.0" cy="760.6" r="16.0"/>
<circle cx="713.7" cy="562.8" r="16.0"/>
<circle cx="783.1" cy="347.5" r="16.0"/>
<circle cx="853.0" cy="220.7" r="16.0"/>
<circle cx="924.0" cy="171.3" r="16.0"/>
</g>
<g fill="#0000FF">
<path d="M572.4,797.0V831.2M556.9,797.0H587.9M556.9,831.2H587.9M643.1,707.8V773.8M627.6,707.8H658.6M627.6,773.8H658.6M712.2,491.1V560.5M696.7,491.1H727.7M696.7,560.5H727.7M853.0,177.8V249.8M837.5,177.8H868.5M837.5,249.8H868.5M922.4,192.9V229.3M906.9,192.9H937.9M906.9,229.3H937.9" fill="none" stroke="#0000FF" stroke-width="5.0" stroke-linecap="round"/>
<circle cx="501.0" cy="835.5" r="16.0"/>
<circle cx="572.4" cy="814.9" r="16.0"/>
<circle cx="643.1" cy="741.1" r="16.0"/>
<circle cx="712.2" cy="526.0" r="16.0"/>
<circle cx="783.1" cy="249.5" r="16.0"/>
<circle cx="853.0" cy="213.8" r="16.0"/>
<circle cx="922.4" cy="211.0" r="16.0"/>
</g>
<g fill="#920084">
<path d="M666.1,404.1V454.5M650.6,404.1H681.6M650.6,454.5H681.6M736.6,246.0V332.0M721.1,246.0H752.1M721.1,332.0H752.1M806.1,176.9V223.9M790.6,176.9H821.6M790.6,223.9H821.6M877.1,187.1V225.2M861.6,187.1H892.6M861.6,225.2H892.6M947.7,170.7V201.9M932.2,170.7H963.2M932.2,201.9H963.2" fill="none" stroke="#920084" stroke-width="5.0" stroke-linecap="round"/>
<circle cx="526.9" cy="844.0" r="16.0"/>
<circle cx="596.0" cy="637.1" r="16.0"/>
<circle cx="666.1" cy="429.3" r="16.0"/>
<circle cx="736.6" cy="288.4" r="16.0"/>
<circle cx="806.1" cy="200.6" r="16.0"/>
<circle cx="877.1" cy="206.1" r="16.0"/>
<circle cx="947.7" cy="185.9" r="16.0"/>
</g>
</g>
<g shape-rendering="crispEdges" filter="url(#hard)">
<rect x="1616" y="106.0" width="87" height="5" fill="#000000"/>
<ellipse cx="1659.5" cy="108.4" rx="15.7" ry="16.2" fill="#000000"/>
<text transform="matrix(0.5750 0 0 0.6210 1749.3 130.00)" font-size="100">CE (g/L)</text>
<rect x="1616" y="204.8" width="87" height="5" fill="#0000FF"/>
<ellipse cx="1659.5" cy="207.2" rx="15.7" ry="16.2" fill="#0000FF"/>
<text transform="matrix(0.5750 0 0 0.6210 1749.3 228.77)" font-size="100">1</text>
<rect x="1616" y="303.5" width="87" height="5" fill="#A9612A"/>
<ellipse cx="1659.5" cy="305.9" rx="15.7" ry="16.2" fill="#A9612A"/>
<text transform="matrix(0.5750 0 0 0.6210 1749.3 327.54)" font-size="100">4</text>
<rect x="1616" y="402.3" width="87" height="5" fill="#FF00FF"/>
<ellipse cx="1659.5" cy="404.7" rx="15.7" ry="16.2" fill="#FF00FF"/>
<text transform="matrix(0.5750 0 0 0.6210 1749.3 426.31)" font-size="100">8</text>
<rect x="1616" y="501.1" width="87" height="5" fill="#FF8000"/>
<ellipse cx="1659.5" cy="503.5" rx="15.7" ry="16.2" fill="#FF8000"/>
<text transform="matrix(0.5750 0 0 0.6210 1749.3 525.08)" font-size="100">17</text>
<rect x="1616" y="599.9" width="87" height="5" fill="#920084"/>
<ellipse cx="1659.5" cy="602.2" rx="15.7" ry="16.2" fill="#920084"/>
<text transform="matrix(0.5750 0 0 0.6210 1749.3 623.85)" font-size="100">22</text>
<rect x="1616" y="698.6" width="87" height="5" fill="#FF0000"/>
<ellipse cx="1659.5" cy="701.0" rx="15.7" ry="16.2" fill="#FF0000"/>
<text transform="matrix(0.5750 0 0 0.6210 1749.3 722.62)" font-size="100">28</text>
</g>
</svg></body></html>
